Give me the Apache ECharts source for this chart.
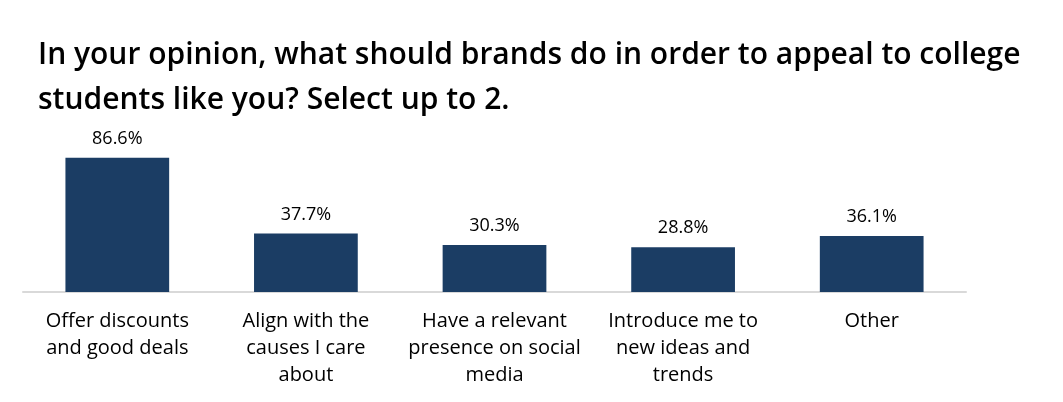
<!DOCTYPE html>
<html>
<head>
<meta charset="utf-8">
<script src="https://cdn.jsdelivr.net/npm/echarts@6/dist/echarts.min.js"></script>
<style>
  html, body { margin: 0; padding: 0; background: #fff; }
  #chart { width: 1063px; height: 402px; }
</style>
</head>
<body>
<div id="chart"></div>
<script>
var titleText = 'In your opinion, what should brands do in order to appeal to college\nstudents like you? Select up to 2.';
var categories = [
    'Offer discounts\nand good deals',
    'Align with the\ncauses I care\nabout',
    'Have a relevant\npresence on social\nmedia',
    'Introduce me to\nnew ideas and\ntrends',
    'Other'
];
var values = [86.6, 37.7, 30.3, 28.8, 36.1];

var chart = echarts.init(document.getElementById('chart'));
var font = '"Open Sans", sans-serif';

var option = {
    animation: false,
    title: {
        text: titleText,
        left: 33,
        top: 28,
        textStyle: {
            fontFamily: font,
            fontSize: 30,
            fontWeight: 600,
            color: '#000',
            lineHeight: 45
        }
    },
    grid: {
        left: 23,
        right: 97,
        top: 137,
        bottom: 110
    },
    xAxis: {
        type: 'category',
        data: categories,
        axisLine: { lineStyle: { color: '#d9d9d9', width: 2 } },
        axisTick: { show: false },
        axisLabel: {
            interval: 0,
            margin: 16,
            fontFamily: font,
            fontSize: 20,
            lineHeight: 27,
            color: '#000'
        }
    },
    yAxis: {
        type: 'value',
        min: 0,
        max: 100,
        show: false
    },
    series: [{
        type: 'bar',
        data: values,
        barWidth: '55%',
        itemStyle: { color: '#1b3d64' },
        label: {
            show: true,
            position: 'top',
            distance: 10,
            fontFamily: font,
            fontSize: 18,
            color: '#000',
            formatter: function (p) { return p.value.toFixed(1) + '%'; }
        }
    }]
};
chart.setOption(option);
</script>
</body>
</html>
